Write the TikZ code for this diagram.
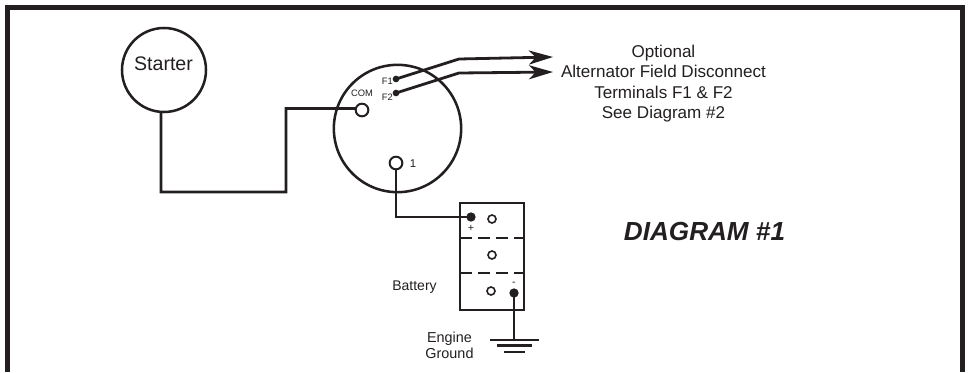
\documentclass[tikz,border=0pt]{standalone}
\usepackage{fontspec}
\setmainfont{Liberation Sans}
\usetikzlibrary{arrows.meta}
\definecolor{ink}{HTML}{231F20}
\tikzset{
  wire/.style={draw=ink,line width=2.2pt},
  ring/.style={circle,draw=ink,line width=1.5pt,inner sep=0pt,minimum size=#1},
  dotterm/.style={circle,fill=ink,inner sep=0pt,minimum size=#1},
  lab/.style={text=ink,font=\fontsize{#1}{#1}\selectfont,inner sep=0pt,align=center},
  feed/.style={draw=ink,line width=2.1pt,-{Stealth[length=18pt,width=10.5pt,inset=5pt]}},
  sep/.style={draw=ink,line width=2pt,dash pattern=on 9pt off 4.5pt}
}
\begin{document}
\begin{tikzpicture}[x=0.75pt,y=-0.75pt]
\useasboundingbox (0,0) rectangle (968,372);
\draw[ink,line width=3.6pt] (7.5,372) -- (7.5,7.5) -- (962.2,7.5) -- (962.2,372);
\node[ring=63pt,line width=1.9pt] (starter) at (164,70) {};
\node[lab=14.7] (startertext) at (163.5,63.5) {Starter};
\node[ring=95.5pt,line width=1.9pt] (sw) at (397.5,128.5) {};
\node[ring=9.5pt] (com) at (362,110) {};
\node[ring=9.5pt] (one) at (396,163) {};
\node[dotterm=5pt] (f1) at (396,79) {};
\node[dotterm=5pt] (f2) at (396,93) {};
\node[lab=7,anchor=east] (f1t) at (393,81) {F1};
\node[lab=7,anchor=east] (f2t) at (393,97) {F2};
\node[lab=7] (comt) at (362,93) {COM};
\node[lab=8.5] (onet) at (413,164) {1};
\coordinate (c1) at (161,192);
\coordinate (c2) at (286,192);
\coordinate (c3) at (286,108.5);
\coordinate (c4) at (355,108.5);
\draw[wire,line join=miter] (starter.266) -- (c1) -- (c2) -- (c3) -- (c4);
\coordinate (b1) at (459,59);
\coordinate (b2) at (459,73);
\coordinate (e1) at (553,57);
\coordinate (e2) at (553,72);
\draw[feed] (f1.center) -- (b1) -- (e1);
\draw[feed] (f2.center) -- (b2) -- (e2);
\node[lab=12.8] (opt) at (663.5,83.5) {Optional\\[2.5pt]Alternator Field Disconnect\\[2.5pt]Terminals F1 \& F2\\[2.5pt]See Diagram \#2};
\node[text=ink,inner sep=0pt,font=\fontsize{19.6}{19.6}\selectfont\bfseries\itshape] (title) at (704.5,231) {DIAGRAM \#1};
\draw[draw=ink,line width=2pt] (460,203) rectangle (524,310);
\coordinate (d1) at (460,238); \coordinate (d2) at (524,238);
\coordinate (d3) at (460,273); \coordinate (d4) at (524,273);
\draw[sep] (d1) -- (d2);
\draw[sep] (d3) -- (d4);
\node[dotterm=7pt] (pos) at (471,217) {};
\node[dotterm=7pt] (neg) at (514,293) {};
\node[ring=6pt,line width=1.2pt] (v1) at (492,219) {};
\node[ring=6pt,line width=1.2pt] (v2) at (492,255) {};
\node[ring=6pt,line width=1.2pt] (v3) at (491,291) {};
\node[lab=8] (plus) at (471,228) {+};
\node[lab=8] (minus) at (514,284) {-};
\coordinate (w1) at (396,217);
\draw[wire] (one.south) -- (w1) -- (pos.center);
\coordinate (g0) at (514,340);
\draw[wire] (neg.center) -- (g0);
\coordinate (ga) at (490,340); \coordinate (gb) at (539,340);
\coordinate (gc) at (497,345.5); \coordinate (gd) at (532,345.5);
\coordinate (ge) at (504,352); \coordinate (gf) at (525,352);
\draw[wire] (ga) -- (gb);
\draw[wire] (gc) -- (gd);
\draw[wire] (ge) -- (gf);
\node[lab=10.5] (batt) at (414.5,287) {Battery};
\node[lab=10.8] (eng) at (449.5,345.5) {Engine\\[1.5pt]Ground};
\end{tikzpicture}
\end{document}
